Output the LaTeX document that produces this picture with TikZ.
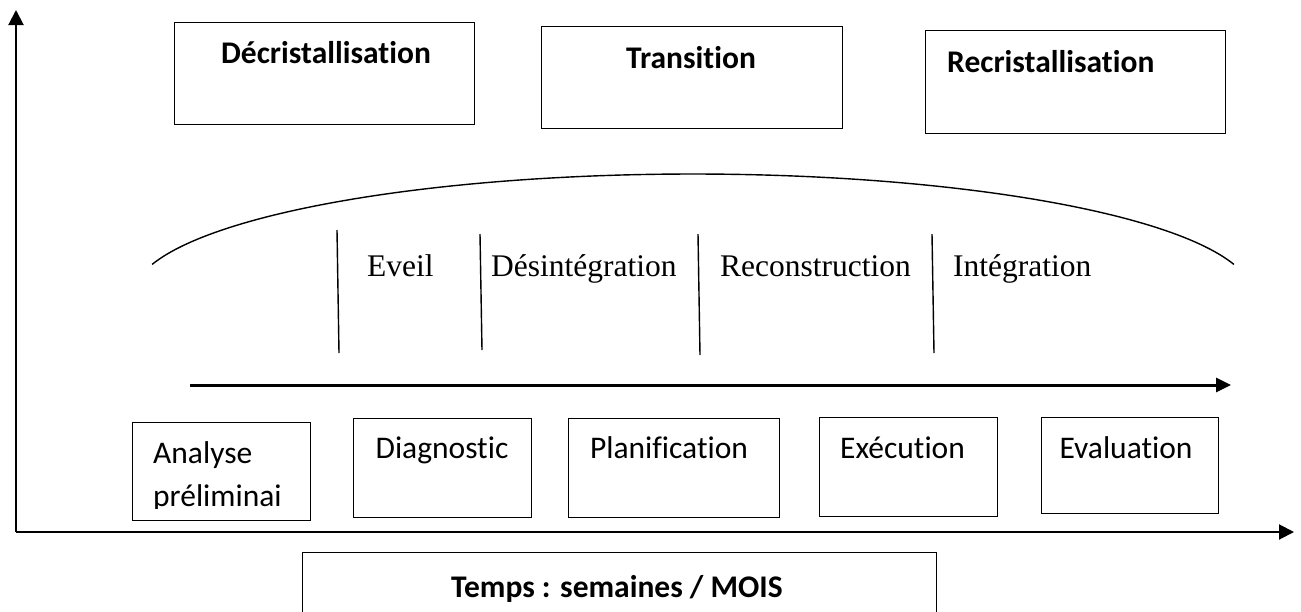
\documentclass[tikz,border=0pt]{standalone}
\usepackage{fontspec}
\setmainfont{Carlito}[Ligatures=NoCommon]
\newfontfamily\tnr{Liberation Serif}
\usetikzlibrary{arrows.meta}
\tikzset{
  box/.style={draw=black, line width=1.4pt, inner sep=0pt},
  ctxt/.style={font=\fontsize{31.5}{38}\selectfont, inner sep=0pt, anchor=base},
  btxt/.style={font=\fontsize{31.5}{38}\selectfont\bfseries, inner sep=0pt, anchor=base},
  ttxt/.style={font=\tnr\fontsize{31.5}{38}\selectfont, inner sep=0pt, anchor=base west},
  sep/.style={line width=1.4pt},
  axis/.style={line width=2pt, -{Triangle[length=15pt,width=15pt]}},
  flow/.style={line width=3pt, -{Triangle[length=15pt,width=14pt]}}
}
\begin{document}
\begin{tikzpicture}[x=1pt,y=-1pt]
\useasboundingbox (0,0) rectangle (1301,611);
\clip (0,0) rectangle (1301,611);
% axes
\coordinate (o) at (16,532);
\coordinate (ytip) at (16,10);
\coordinate (xtip) at (1294,532);
\draw[axis] (o) -- (ytip);
\draw[axis] (o) -- (xtip);
% top boxes
\node[box, minimum width=300pt, minimum height=102pt, anchor=north west] (dec) at (174,22) {};
\node[btxt] (dect) at (326,63) {Décristallisation};
\node[box, minimum width=301pt, minimum height=102pt, anchor=north west] (tra) at (541,26) {};
\node[btxt] (trat) at (691,68) {Transition};
\node[box, minimum width=300pt, minimum height=103pt, anchor=north west] (rec) at (925,30) {};
\node[btxt, anchor=base west] (rect) at (947,72) {Recristallisation};
% arc
\draw[line width=1.4pt] plot[domain=15:165, samples=120] ({693+560*cos(\x)}, {296-122*sin(\x)});
% separators
\coordinate (s1a) at (337,230); \coordinate (s1b) at (339,353);
\coordinate (s2a) at (480,234); \coordinate (s2b) at (482,350);
\coordinate (s3a) at (698,234); \coordinate (s3b) at (700,355);
\coordinate (s4a) at (932,234); \coordinate (s4b) at (934,353);
\draw[sep] (s1a) -- (s1b);
\draw[sep] (s2a) -- (s2b);
\draw[sep] (s3a) -- (s3b);
\draw[sep] (s4a) -- (s4b);
\node[ttxt] (eveil) at (367,276) {Eveil};
\node[ttxt] (desi) at (491,276) {Désintégration};
\node[ttxt] (reco) at (720,276) {Reconstruction};
\node[ttxt] (inte) at (953,276) {Intégration};
% flow arrow
\coordinate (fa) at (190,385);
\coordinate (fb) at (1231,385);
\draw[flow] (fa) -- (fb);
% bottom boxes
\node[box, minimum width=178pt, minimum height=98pt, anchor=north west] (ana) at (132,422) {};
\begin{scope}
\clip (132,422) rectangle (310,508);
\node[ctxt, anchor=base west] (anat1) at (153,463) {Analyse};
\node[ctxt, anchor=base west] (anat2) at (153,506) {préliminai};
\end{scope}
\node[box, minimum width=178pt, minimum height=99pt, anchor=north west] (dia) at (353,418) {};
\node[ctxt] (diat) at (442,458) {Diagnostic};
\node[box, minimum width=211pt, minimum height=99pt, anchor=north west] (pla) at (568,418) {};
\node[ctxt] (plat) at (669,458) {Planification};
\node[box, minimum width=178pt, minimum height=99pt, anchor=north west] (exe) at (819,417) {};
\node[ctxt, anchor=base west] (exet) at (840,458) {Exécution};
\node[box, minimum width=177pt, minimum height=96pt, anchor=north west] (eva) at (1041,417) {};
\node[ctxt] (evat) at (1126,458) {Evaluation};
% time box
\node[box, minimum width=634pt, minimum height=90pt, anchor=north west] (tps) at (302,552) {};
\node[btxt] (tpst) at (617,597) {Temps : semaines / MOIS};
\end{tikzpicture}
\end{document}
